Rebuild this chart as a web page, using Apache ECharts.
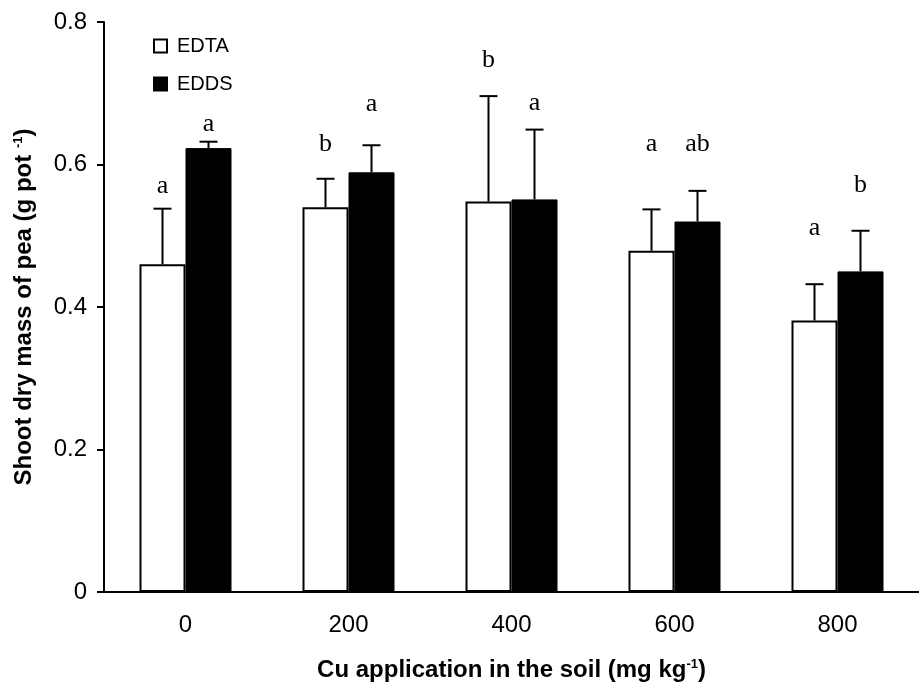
<!DOCTYPE html>
<html>
<head>
<meta charset="utf-8">
<script src="https://cdn.jsdelivr.net/npm/echarts@6/dist/echarts.min.js"></script>
<style>
  html, body { margin: 0; padding: 0; background: #fff; }
  #chart { width: 919px; height: 691px; }
</style>
</head>
<body>
<div id="chart"></div>
<script>
// data
var doses = ['0', '200', '400', '600', '800']
var edtaMean = [0.46, 0.54, 0.548, 0.479, 0.381]
var edtaErr = [0.078, 0.04, 0.148, 0.058, 0.051]
var eddsMean = [0.623, 0.589, 0.551, 0.52, 0.45]
var eddsErr = [0.009, 0.038, 0.098, 0.043, 0.057]
var edtaLetters = ['a', 'b', 'b', 'a', 'a']
var eddsLetters = ['a', 'a', 'a', 'ab', 'b']
var edtaLetterY = [0.569, 0.628, 0.746, 0.628, 0.511]
var eddsLetterY = [0.656, 0.685, 0.686, 0.628, 0.571]

var BAR_W = 46

// error bar (upper only) + significance letter
function errRender(means, errs, letters, letterY, side) {
  return function (params, api) {
    var i = params.dataIndex
    var base = api.coord([i, means[i]])
    var top = api.coord([i, means[i] + errs[i]])
    var lab = api.coord([i, letterY[i]])
    var x = base[0] + side * BAR_W / 2
    var st = { stroke: '#000', lineWidth: 2 }
    return {
      type: 'group',
      children: [
        { type: 'line', shape: { x1: x, y1: base[1], x2: x, y2: top[1] }, style: st },
        { type: 'line', shape: { x1: x - 9, y1: top[1], x2: x + 9, y2: top[1] }, style: st },
        {
          type: 'text',
          style: {
            x: x, y: lab[1], text: letters[i],
            fill: '#000', font: '26px "Liberation Serif", "Times New Roman", serif',
            textAlign: 'center', textVerticalAlign: 'middle'
          }
        }
      ]
    }
  }
}

var supStyle = { fontSize: 13, fontWeight: 'bold', verticalAlign: 'top', padding: [0, 0, 11, 0] }

var chart = echarts.init(document.getElementById('chart'))
var option = {
  animation: false,
  backgroundColor: '#fff',
  textStyle: { fontFamily: '"Liberation Sans", Arial, sans-serif', color: '#000' },
  grid: { left: 104, top: 22, width: 820, height: 570 },
  legend: {
    orient: 'vertical',
    left: 148, top: 31,
    icon: 'rect',
    itemWidth: 13, itemHeight: 13, itemGap: 18,
    textStyle: { fontSize: 20, color: '#000', padding: [0, 0, 0, 5] },
    data: ['EDTA', 'EDDS']
  },
  xAxis: {
    type: 'category',
    data: doses,
    axisLine: { lineStyle: { color: '#000', width: 2 } },
    axisTick: { length: 7, lineStyle: { color: '#000', width: 2 } },
    axisLabel: { fontSize: 24, color: '#000', margin: 21 },
    name: 'Cu application in the soil (mg kg{sup|-1})',
    nameLocation: 'middle',
    nameGap: 66,
    nameTextStyle: { fontSize: 24, fontWeight: 'bold', color: '#000', rich: { sup: supStyle } }
  },
  yAxis: {
    type: 'value',
    min: 0, max: 0.8, interval: 0.2,
    splitLine: { show: false },
    axisLine: { show: true, lineStyle: { color: '#000', width: 2 } },
    axisTick: { show: true, length: 7, lineStyle: { color: '#000', width: 2 } },
    axisLabel: { fontSize: 24, color: '#000', margin: 17, formatter: function (v) { return v === 0 ? '0' : v.toFixed(1) } },
    name: 'Shoot dry mass of pea (g pot {sup|-1})',
    nameLocation: 'middle',
    nameGap: 68,
    nameTextStyle: { fontSize: 24, fontWeight: 'bold', color: '#000', rich: { sup: supStyle } }
  },
  series: [
    {
      name: 'EDTA', type: 'bar', data: edtaMean, barWidth: BAR_W, barGap: 0,
      itemStyle: { color: '#fff', borderColor: '#000', borderWidth: 2 }
    },
    {
      name: 'EDDS', type: 'bar', data: eddsMean, barWidth: BAR_W, barGap: 0,
      itemStyle: { color: '#000', borderColor: '#000', borderWidth: 1 }
    },
    {
      type: 'custom', data: edtaMean, z: 5, silent: true,
      renderItem: errRender(edtaMean, edtaErr, edtaLetters, edtaLetterY, -1)
    },
    {
      type: 'custom', data: eddsMean, z: 5, silent: true,
      renderItem: errRender(eddsMean, eddsErr, eddsLetters, eddsLetterY, 1)
    }
  ]
}
chart.setOption(option)
</script>
</body>
</html>
